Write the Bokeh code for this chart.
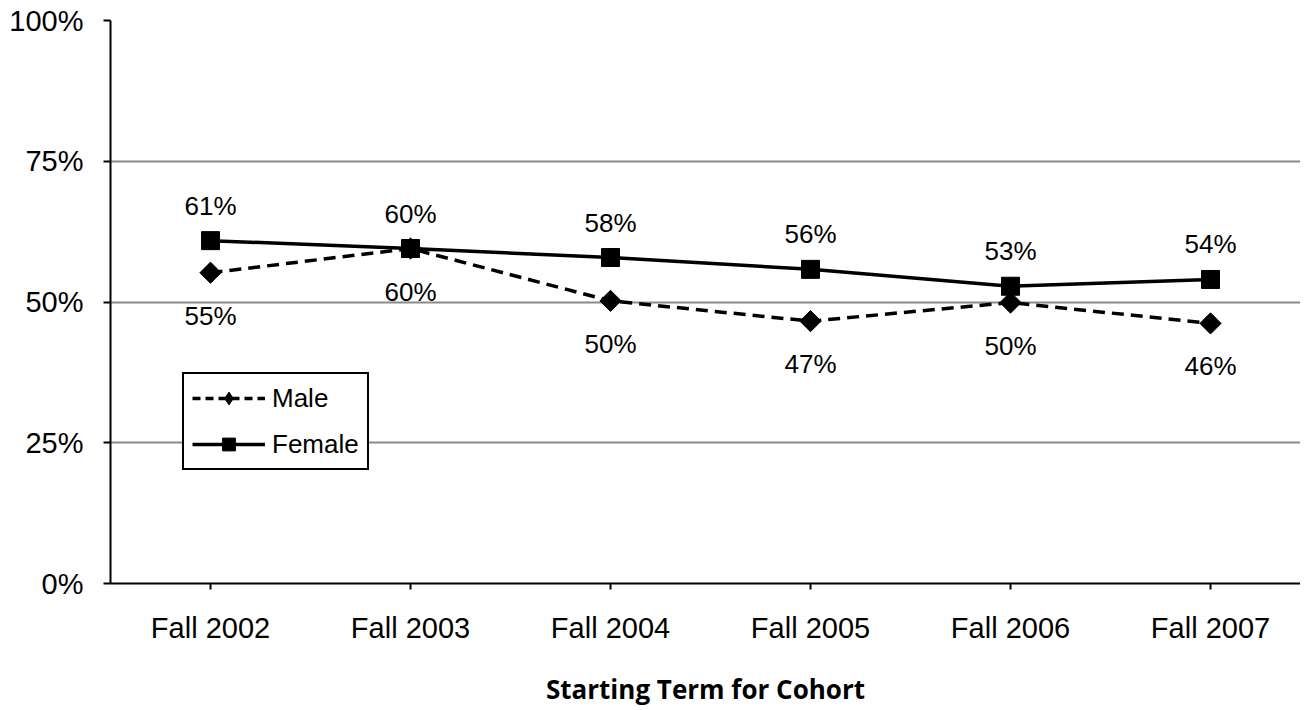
import math
from bokeh.plotting import figure
from bokeh.models import Range1d, FixedTicker, Legend, LegendItem, ColumnDataSource
from bokeh.core.properties import value
from bokeh.embed import file_html
from bokeh.resources import INLINE

categories = ["Fall 2002", "Fall 2003", "Fall 2004", "Fall 2005", "Fall 2006", "Fall 2007"]
male = [55.2, 59.5, 50.2, 46.6, 49.9, 46.2]
female = [60.9, 59.5, 57.9, 55.8, 52.8, 54.0]
male_labels = ["55%", "60%", "50%", "47%", "50%", "46%"]
female_labels = ["61%", "60%", "58%", "56%", "53%", "54%"]
y_ticks = [0, 25, 50, 75, 100]
y_tick_labels = ["0%", "25%", "50%", "75%", "100%"]

xs = list(range(len(categories)))
FONT = "Liberation Sans"

p = figure(width=1300, height=710, output_backend="svg", toolbar_location=None,
           x_range=Range1d(-0.5, 5.45), y_range=Range1d(0, 100),
           min_border_left=110, min_border_right=0, min_border_top=20, min_border_bottom=127)
p.outline_line_color = None
p.background_fill_color = "white"
p.border_fill_color = "white"

# grid
p.xgrid.visible = False
p.ygrid.ticker = FixedTicker(ticks=y_ticks)
p.ygrid.grid_line_color = "#8a8a8a"
p.ygrid.grid_line_width = 2

# y axis
p.yaxis.ticker = FixedTicker(ticks=y_ticks)
p.yaxis.major_label_overrides = {t: l for t, l in zip(y_ticks, y_tick_labels)}
p.yaxis.minor_tick_line_color = None
p.yaxis.major_tick_in = 0
p.yaxis.major_tick_out = 7
p.yaxis.major_tick_line_width = 2
p.yaxis.axis_line_width = 2
p.yaxis.axis_line_color = "black"
p.yaxis.major_label_text_font = FONT
p.yaxis.major_label_text_font_size = "29px"
p.yaxis.major_label_text_color = "black"
p.yaxis.major_label_standoff = 20

# x axis
p.xaxis.ticker = FixedTicker(ticks=xs)
p.xaxis.major_label_overrides = {i: c for i, c in zip(xs, categories)}
p.xaxis.minor_tick_line_color = None
p.xaxis.major_tick_in = 0
p.xaxis.major_tick_out = 6
p.xaxis.major_tick_line_width = 2
p.xaxis.axis_line_width = 2
p.xaxis.axis_line_color = "black"
p.xaxis.major_label_text_font = FONT
p.xaxis.major_label_text_font_size = "29px"
p.xaxis.major_label_text_color = "black"
p.xaxis.major_label_standoff = 22
p.xaxis.axis_label = "Starting Term for Cohort"
p.xaxis.axis_label_text_font = "Open Sans"
p.xaxis.axis_label_text_font_style = "bold"
p.xaxis.axis_label_text_font_size = "26px"
p.xaxis.axis_label_text_color = "black"
p.xaxis.axis_label_standoff = 24

src = ColumnDataSource(dict(x=xs, male=male, female=female,
                            ml=male_labels, fl=female_labels))

ml = p.line("x", "male", source=src, line_color="black", line_width=3.5, line_dash="12 7")
ms = p.scatter("x", "male", source=src, marker="square", angle=math.pi / 4, size=15,
               fill_color="black", line_color="black")
fl = p.line("x", "female", source=src, line_color="black", line_width=3.5)
fs = p.scatter("x", "female", source=src, marker="square", size=18, fill_color="black", line_color="black")

# legend-only glyphs (placed outside the visible range) so the legend shows a true diamond
offscreen = ColumnDataSource(dict(x=[-10, -9], y=[-10, -10]))
ml_leg = p.line("x", "y", source=offscreen, line_color="black", line_width=3.5, line_dash="8 5")
ms_leg = p.scatter("x", "y", source=offscreen, marker="diamond", size=22,
                   fill_color="black", line_color="black")
fl_leg = p.line("x", "y", source=offscreen, line_color="black", line_width=3.5)
fs_leg = p.scatter("x", "y", source=offscreen, marker="square", size=14,
                   fill_color="black", line_color="black")

p.text("x", "male", text="ml", source=src, y_offset=43, text_align="center", text_baseline="middle",
       text_font=value(FONT), text_font_size="26px", text_color="black")
p.text("x", "female", text="fl", source=src, y_offset=-35, text_align="center", text_baseline="middle",
       text_font=value(FONT), text_font_size="26px", text_color="black")

legend = Legend(items=[LegendItem(label="Male", renderers=[ml_leg, ms_leg]),
                       LegendItem(label="Female", renderers=[fl_leg, fs_leg])],
                location=(72, 113), orientation="vertical")
legend.border_line_color = "black"
legend.border_line_alpha = 1
legend.border_line_width = 2
legend.background_fill_color = "white"
legend.background_fill_alpha = 1
legend.label_text_font = FONT
legend.label_text_font_size = "26px"
legend.label_text_color = "black"
legend.glyph_width = 73
legend.glyph_height = 32
legend.label_standoff = 7
legend.padding = 8
legend.spacing = 14
legend.margin = 0
legend.label_height = 28
p.add_layout(legend, "center")

open("out.html", "w").write(file_html(p, INLINE))
